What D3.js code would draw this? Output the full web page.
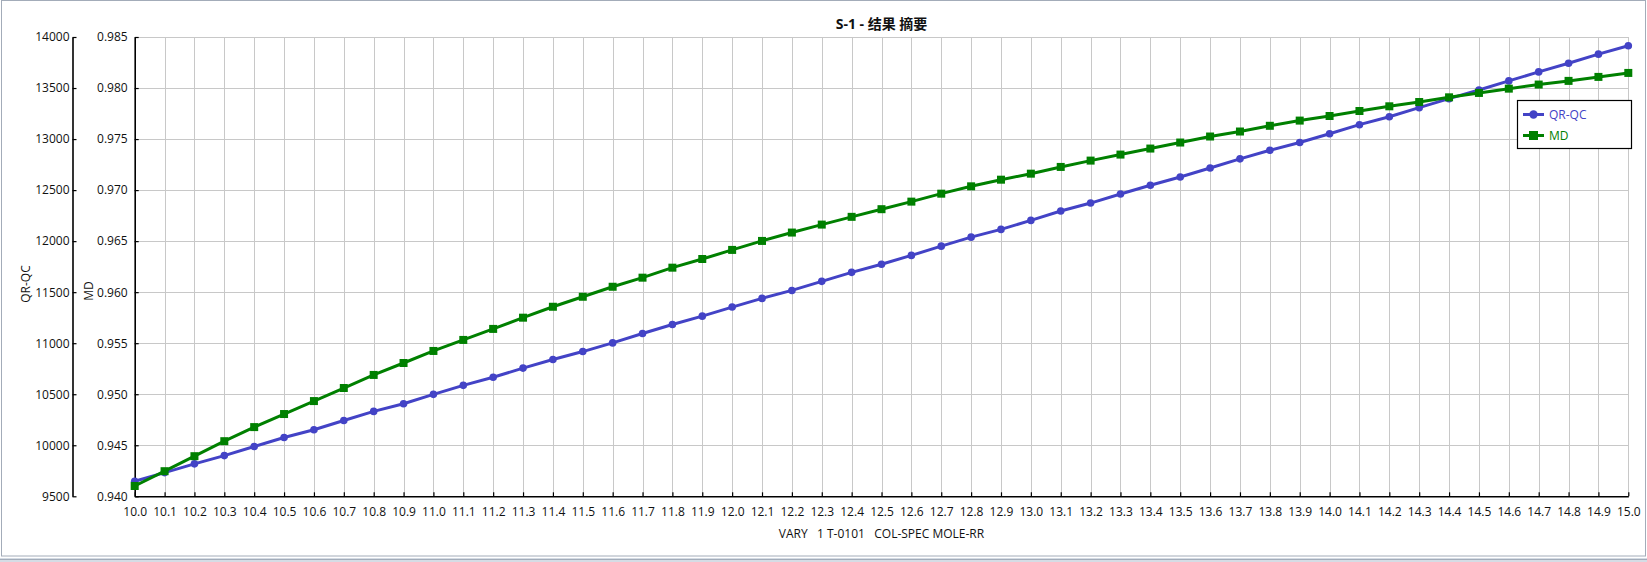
<!DOCTYPE html>
<meta charset="utf-8">

<!-- Load d3.js -->
<script src="https://d3js.org/d3.v7.min.js"></script>

<style>
    body { margin: 0; background: #fff; }
    text { font-family: "Open Sans", "Noto Sans CJK SC", sans-serif; }
</style>

<!-- Create a div where the graph will take place -->
<div id="my_dataviz"></div>

<script>
    // data
    var categories = ["10.0", "10.1", "10.2", "10.3", "10.4", "10.5", "10.6", "10.7", "10.8", "10.9",
        "11.0", "11.1", "11.2", "11.3", "11.4", "11.5", "11.6", "11.7", "11.8", "11.9",
        "12.0", "12.1", "12.2", "12.3", "12.4", "12.5", "12.6", "12.7", "12.8", "12.9",
        "13.0", "13.1", "13.2", "13.3", "13.4", "13.5", "13.6", "13.7", "13.8", "13.9",
        "14.0", "14.1", "14.2", "14.3", "14.4", "14.5", "14.6", "14.7", "14.8", "14.9", "15.0"]

    var qrqc = [9647, 9732, 9818, 9899, 9988, 10076, 10152, 10243, 10332, 10407,
        10499, 10587, 10666, 10756, 10840, 10918, 11003, 11095, 11183, 11265,
        11354, 11439, 11517, 11606, 11694, 11773, 11860, 11951, 12039, 12115,
        12203, 12295, 12373, 12462, 12547, 12629, 12717, 12806, 12890, 12967,
        13052, 13141, 13219, 13308, 13396, 13481, 13570, 13658, 13743, 13832, 13914]

    var md = [0.94101, 0.94246, 0.94393, 0.94540, 0.94678, 0.94806, 0.94933, 0.95061, 0.95189, 0.95306,
        0.95424, 0.95532, 0.95640, 0.95750, 0.95857, 0.95955, 0.96053, 0.96142, 0.96240, 0.96325,
        0.96414, 0.96502, 0.96584, 0.96662, 0.96738, 0.96813, 0.96887, 0.96965, 0.97037, 0.97102,
        0.97161, 0.97227, 0.97289, 0.97348, 0.97407, 0.97466, 0.97525, 0.97574, 0.97630, 0.97681,
        0.97726, 0.97775, 0.97821, 0.97863, 0.97909, 0.97952, 0.97994, 0.98034, 0.98070, 0.98109, 0.98148]

    var qrqcTicks = [9500, 10000, 10500, 11000, 11500, 12000, 12500, 13000, 13500, 14000]
    var mdTicks = [0.940, 0.945, 0.950, 0.955, 0.960, 0.965, 0.970, 0.975, 0.980, 0.985]

    var title = "S-1 - 结果 摘要"
    var xTitle = "VARY   1 T-0101   COL-SPEC MOLE-RR"

    // set the dimensions of the graph
    var width = 1647
    var height = 562
    var plotLeft = 134.7, plotRight = 1628.3, plotTop = 37, plotBottom = 496.3

    var blue = "#4343c6"
    var green = "#008000"

    var svg = d3.select("#my_dataviz")
        .append("svg")
        .attr("width", width)
        .attr("height", height)

    // window frame
    svg.append("rect")
        .attr("x", 1.5).attr("y", 0.5)
        .attr("width", width - 3).attr("height", 555.5)
        .attr("fill", "none").attr("stroke", "#a3acb9")
    svg.append("rect")
        .attr("x", 0).attr("y", 558)
        .attr("width", width).attr("height", 4)
        .attr("fill", "#d5dce5")
    svg.append("line")
        .attr("x1", 0).attr("x2", width)
        .attr("y1", 559.5).attr("y2", 559.5)
        .attr("stroke", "#a3acb9")

    // scales
    var x = d3.scalePoint()
        .domain(categories)
        .range([plotLeft, plotRight])

    var yQ = d3.scaleLinear()
        .domain([9500, 14000])
        .range([plotBottom, plotTop])

    var yM = d3.scaleLinear()
        .domain([0.940, 0.985])
        .range([plotBottom, plotTop])

    // grid
    var grid = svg.append("g").attr("stroke", "#c8c8c8").attr("stroke-width", 1)
    grid.selectAll("vline")
        .data(categories)
        .enter()
        .append("line")
        .attr("x1", function(d) { return Math.round(x(d)) + 0.5 })
        .attr("x2", function(d) { return Math.round(x(d)) + 0.5 })
        .attr("y1", plotTop)
        .attr("y2", plotBottom)
    grid.selectAll("hline")
        .data(mdTicks)
        .enter()
        .append("line")
        .attr("x1", plotLeft)
        .attr("x2", plotRight)
        .attr("y1", function(d) { return Math.round(yM(d)) + 0.5 })
        .attr("y2", function(d) { return Math.round(yM(d)) + 0.5 })

    // axes
    var axisX = svg.append("g")
        .attr("transform", "translate(0," + plotBottom + ")")
        .call(d3.axisBottom(x).tickSize(-4).tickSizeOuter(0).tickPadding(11))

    var axisM = svg.append("g")
        .attr("transform", "translate(" + plotLeft + ",0)")
        .call(d3.axisLeft(yM).tickValues(mdTicks).tickFormat(d3.format(".3f")).tickSize(-4).tickSizeOuter(0).tickPadding(7))

    var axisQ = svg.append("g")
        .attr("transform", "translate(72.5,0)")
        .call(d3.axisLeft(yQ).tickValues(qrqcTicks).tickFormat(d3.format("d")).tickSize(-4).tickSizeOuter(0).tickPadding(3))

    ;[axisX, axisM, axisQ].forEach(function(a) {
        a.selectAll("path").attr("stroke", "#000").attr("stroke-width", 1.6)
        a.selectAll("line").attr("stroke", "#000").attr("stroke-width", 1.2)
        a.selectAll("text").attr("fill", "#111").style("font-size", "12px").style("font-family", "'Open Sans', sans-serif")
    })

    // lines
    var lineQ = d3.line()
        .x(function(d, i) { return x(categories[i]) })
        .y(function(d) { return yQ(d) })
    var lineM = d3.line()
        .x(function(d, i) { return x(categories[i]) })
        .y(function(d) { return yM(d) })

    svg.append("path")
        .datum(qrqc)
        .attr("d", lineQ)
        .attr("fill", "none")
        .attr("stroke", blue)
        .attr("stroke-width", 3)

    svg.selectAll("qdot")
        .data(qrqc)
        .enter()
        .append("circle")
        .attr("cx", function(d, i) { return x(categories[i]) })
        .attr("cy", function(d) { return yQ(d) })
        .attr("r", 3.8)
        .attr("fill", blue)

    svg.append("path")
        .datum(md)
        .attr("d", lineM)
        .attr("fill", "none")
        .attr("stroke", green)
        .attr("stroke-width", 3)

    svg.selectAll("mdot")
        .data(md)
        .enter()
        .append("rect")
        .attr("x", function(d, i) { return x(categories[i]) - 4 })
        .attr("y", function(d) { return yM(d) - 4 })
        .attr("width", 8)
        .attr("height", 8)
        .attr("fill", green)

    // titles
    svg.append("text")
        .attr("x", (plotLeft + plotRight) / 2)
        .attr("y", 28.5)
        .attr("text-anchor", "middle")
        .style("font-size", "14px")
        .style("font-weight", "bold")
        .attr("fill", "#111")
        .text(title)

    svg.append("text")
        .attr("x", (plotLeft + plotRight) / 2)
        .attr("y", 537.5)
        .attr("text-anchor", "middle")
        .style("font-size", "12px")
        .style("white-space", "pre")
        .attr("xml:space", "preserve")
        .attr("fill", "#111")
        .text(xTitle)

    svg.append("text")
        .attr("transform", "translate(30,284) rotate(-90)")
        .attr("text-anchor", "middle")
        .style("font-size", "12px")
        .attr("fill", "#111")
        .text("QR-QC")

    svg.append("text")
        .attr("transform", "translate(92.5,291) rotate(-90)")
        .attr("text-anchor", "middle")
        .style("font-size", "12px")
        .attr("fill", "#111")
        .text("MD")

    // legend
    var legend = svg.append("g")
    legend.append("rect")
        .attr("x", 1517.5).attr("y", 100.5)
        .attr("width", 114).attr("height", 48)
        .attr("fill", "#fff").attr("stroke", "#000").attr("stroke-width", 1.2)

    var legendItems = [
        { name: "QR-QC", color: blue, shape: "circle" },
        { name: "MD", color: green, shape: "square" }
    ]
    legendItems.forEach(function(item, i) {
        var ly = 114.5 + i * 21
        legend.append("line")
            .attr("x1", 1523).attr("x2", 1544)
            .attr("y1", ly).attr("y2", ly)
            .attr("stroke", item.color).attr("stroke-width", 3)
        if (item.shape == "circle") {
            legend.append("circle")
                .attr("cx", 1533.5).attr("cy", ly).attr("r", 4.2)
                .attr("fill", item.color)
        } else {
            legend.append("rect")
                .attr("x", 1529).attr("y", ly - 4.5)
                .attr("width", 9).attr("height", 9)
                .attr("fill", item.color)
        }
        legend.append("text")
            .attr("x", 1549)
            .attr("y", ly)
            .attr("dy", "0.35em")
            .style("font-size", "12px")
            .attr("fill", item.color)
            .text(item.name)
    })
</script>
